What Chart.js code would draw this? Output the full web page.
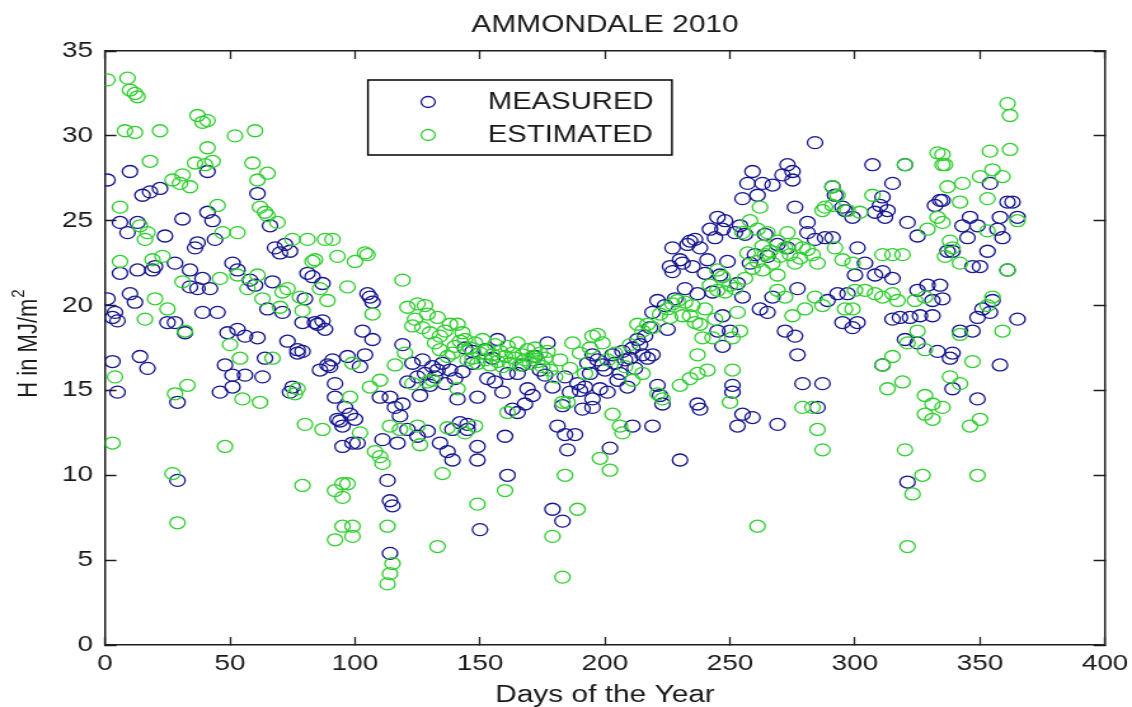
<!DOCTYPE html>
<html>
<head>
<meta charset="utf-8">
<script src="https://cdn.jsdelivr.net/npm/chart.js@4/dist/chart.umd.min.js"></script>
<style>
  html, body { margin: 0; padding: 0; background: #ffffff; overflow: hidden; }
  /* the reference picture is stretched horizontally; draw narrow and stretch the same way */
  #wrap { width: 891px; height: 707px; transform: scaleX(1.27048); transform-origin: 0 0; }
  canvas { display: block; }
</style>
</head>
<body>
<div id="wrap"><canvas id="c" width="891" height="707"></canvas></div>
<script>
// ---- data (day of year, H in MJ/m2) ----
const measured = [
  [1,27.4],[1,20.4],[3,16.7],[3,19.3],[4,19.6],[5,14.9],[5,19.1],[6,24.9],[6,21.9],[9,24.3],
  [10,27.9],[10,20.7],[12,20.2],[13,24.9],[13,22.1],[14,17.0],[15,26.5],[17,16.3],[18,26.7],[19,22.1],
  [20,22.3],[22,26.9],[24,24.1],[25,19.0],[28,19.0],[28,22.5],[29,14.3],[29,9.7],[31,25.1],[32,18.4],
  [34,22.1],[34,21.1],[36,23.4],[37,23.7],[37,21.0],[39,19.6],[39,21.6],[41,27.9],[41,25.5],[42,21.0],
  [43,25.0],[44,23.9],[45,19.6],[46,14.9],[48,16.5],[49,18.4],[51,22.5],[51,15.2],[51,15.9],[53,22.1],
  [53,18.6],[56,18.2],[56,15.9],[58,21.5],[60,21.2],[61,26.6],[61,18.1],[63,15.8],[64,16.9],[65,19.8],
  [66,24.7],[67,21.4],[68,23.4],[70,23.1],[71,19.6],[72,23.6],[73,17.9],[74,14.9],[74,23.2],[75,15.2],
  [77,17.4],[77,17.2],[79,17.3],[79,19.0],[80,20.4],[81,21.9],[83,21.7],[84,19.0],[85,18.9],[86,16.2],
  [87,21.3],[87,19.1],[88,18.6],[89,16.5],[90,16.4],[91,16.8],[92,15.4],[92,14.6],[93,13.3],[94,13.2],
  [95,12.9],[95,11.7],
  [96,14.0],[97,17.0],[98,13.6],[99,11.9],[100,13.3],[101,11.9],[102,16.4],[103,18.5],[104,17.1],[105,20.7],
  [106,20.5],[107,20.2],[107,18.0],[110,14.6],[111,12.1],[113,9.7],[114,14.6],[114,8.5],[114,5.4],[115,8.2],
  [116,14.0],[117,11.9],[118,13.5],[119,17.7],[119,14.2],[121,12.7],[121,15.5],[123,16.6],[125,15.8],[125,12.3],
  [126,14.7],[127,16.8],[128,16.0],[129,12.6],[130,15.3],[131,16.4],[132,15.8],[133,16.2],[134,11.9],[135,16.6],
  [136,15.4],[137,11.4],[138,16.2],[139,12.7],[139,10.9],[140,15.7],[141,14.5],[142,13.1],[143,16.1],[144,17.5],
  [145,12.7],
  [145,13.0],[147,17.3],[147,16.6],[149,14.6],[149,11.7],[149,10.9],[150,6.8],[152,17.4],[153,15.7],[155,16.9],
  [156,15.5],[157,18.0],[159,14.9],[160,12.3],[161,16.0],[161,10.0],[163,13.9],[165,16.0],[165,13.7],[167,16.5],
  [168,14.2],[169,15.1],[171,14.7],[172,17.0],[174,16.2],[176,15.9],[177,17.8],[179,15.2],[179,8.0],[181,12.9],
  [183,14.1],[183,7.3],[184,12.4],[184,15.8],[185,11.5],[186,14.9],[188,12.4],[189,15.4],[190,15.0],[191,13.9],
  [192,15.2],[193,16.6],[194,16.0],
  [195,17.1],[195,14.5],[195,14.0],[197,16.8],[198,15.1],[199,16.5],[200,16.2],[201,14.9],[202,11.6],[203,17.1],
  [204,16.6],[205,15.6],[206,16.0],[207,17.3],[208,16.8],[209,15.2],[210,16.9],[211,17.5],[211,12.9],[212,16.3],
  [213,18.0],[214,17.7],[215,17.1],[216,18.2],[217,16.9],[218,18.7],[219,17.1],[219,19.6],[219,12.9],[221,20.3],
  [221,15.3],[222,14.7],[223,14.2],[224,20.0],[225,18.6],[226,22.3],[227,23.4],[227,22.0],[228,20.4],[230,22.7],
  [230,10.9],[231,22.5],[232,21.0],[233,23.6],[234,23.8],[235,22.3],[236,23.9],[237,20.7],[237,14.2],[238,23.4],
  [238,13.9],[240,21.9],[241,22.7],[242,24.5],[243,20.8],[244,24.0],[245,25.2],[245,18.5],[246,21.8],[247,24.5],
  [247,19.4],[247,17.6],[248,25.0],[249,22.6],[250,18.5],[251,15.3],[251,14.9],[252,24.3],[253,12.9],[253,21.3],
  [254,24.7],[255,26.3],[255,20.5],[255,13.6],[256,24.2],[257,27.2],[258,22.5],[259,27.9],[259,13.4],[260,23.0],
  [261,26.5],[262,19.8],[263,27.2],[264,24.2],
  [265,22.9],[265,19.6],[267,27.1],[267,20.5],[269,13.0],[269,23.6],[271,27.7],[272,18.5],[273,28.3],[273,23.4],
  [275,27.9],[275,27.4],[276,25.8],[276,18.2],[277,21.0],[277,17.1],[279,15.4],[281,24.9],[281,24.3],[284,29.6],
  [284,23.9],[285,14.0],[287,15.4],[288,24.0],[289,20.3],[291,27.0],[291,24.0],[292,26.5],[293,20.7],[295,25.8],
  [295,19.0],[296,25.6],[297,20.7],[299,25.2],[299,18.7],[300,21.8],[301,23.4],[301,19.0],[304,22.5],[307,28.3],
  [308,21.8],[308,25.5],[310,25.9],[311,22.0],[311,16.5],[311,26.4],[312,25.2],[313,25.6],[315,21.6],[315,19.2],
  [315,27.2],[318,19.3],[320,28.3],[320,18.0],[321,24.9],[321,9.6],[322,19.3],[325,24.1],[325,20.9],[325,17.8],
  [326,19.4],[329,21.2],[331,20.3],[331,19.4],[332,25.9],[333,17.3],
  [334,26.2],[334,21.2],[335,26.2],[335,20.4],[337,23.2],[338,16.9],[339,23.2],[339,17.2],[339,15.1],[342,18.5],
  [343,24.7],[345,24.0],[346,25.2],[347,22.3],[347,18.5],[349,24.7],[349,19.3],[349,14.5],[350,22.3],[351,19.8],
  [353,23.2],[354,27.2],[354,19.6],[355,20.3],[357,24.5],[358,25.2],[358,16.5],[359,24.0],[361,26.1],[361,22.1],
  [363,26.1],[365,25.2],[365,19.2]
];

const estimated = [
  [1,33.3],[9,33.4],[10,32.7],[12,32.5],[13,32.3],[8,30.3],[12,30.2],[22,30.3],[37,31.2],[39,30.8],
  [41,30.9],[52,30.0],[60,30.3],[41,29.3],[18,28.5],[36,28.4],[40,28.3],[43,28.5],[59,28.4],[65,27.8],
  [61,27.4],[27,27.4],[31,27.7],[30,27.2],[34,27.0],[6,25.8],[45,25.9],[62,25.8],[64,25.5],[65,25.3],
  [69,24.9],[16,23.9],[47,24.3],[53,24.3],[75,23.9],[81,23.9],[88,23.9],[6,22.6],[19,22.7],[83,22.6],
  [46,21.6],[53,21.8],[61,21.8],[31,21.4],[71,20.8],[89,20.3],[20,20.4],[16,19.2],[32,18.5],[79,19.7],
  [4,15.8],[3,11.9],[28,14.8],[33,15.3],[27,10.1],[29,7.2],[48,11.7],[55,14.5],[62,14.3],[77,15.1],
  [76,14.8],[80,13.0],[87,12.7],[79,9.4],[92,9.1],[95,9.5],[92,6.2],[95,7.0],[14,24.7],[17,24.3],
  [23,22.9],[25,19.8],[50,17.7],[54,16.9],[57,21.0],[63,20.4],[67,16.9],[70,19.9],[73,21.0],[78,20.5],
  [84,22.7],[86,21.0],[91,23.9],[93,22.9],
  [104,23.1],[100,22.6],[119,21.5],[97,21.1],[107,19.5],[125,20.1],[129,19.5],[133,19.3],[138,18.9],[141,18.9],
  [143,18.4],[123,18.8],[127,18.7],[134,18.2],[134,17.4],[139,17.2],[145,16.8],[110,15.6],[99,16.6],[123,15.4],
  [129,15.5],[131,15.6],[98,14.6],[106,15.2],[141,15.1],[114,12.9],[118,12.7],[125,12.9],[110,11.1],[111,10.7],
  [135,10.1],[97,9.5],[95,8.7],[99,7.0],[99,6.4],[113,7.0],[133,5.8],[115,4.8],[114,4.2],[113,3.6],
  [121,19.9],[128,20.0],[130,18.4],[132,17.8],[136,18.5],[137,17.0],[140,17.6],[142,17.9],[144,18.0],[116,16.5],
  [120,17.2],[102,12.5],[105,23.0],[108,11.4],[124,19.2],[126,11.8],[137,12.8],[144,12.5],
  [146,17.5],[147,16.9],[148,17.8],[149,16.6],[150,17.2],[151,18.0],[152,16.8],[153,17.4],[154,16.5],[155,17.1],
  [156,17.7],[157,16.7],[158,17.3],[159,16.4],[160,17.0],[161,17.6],[162,16.6],[163,17.2],[164,16.9],[165,17.8],
  [166,16.5],[167,17.1],[168,16.8],[169,17.4],[170,16.6],[171,17.0],[172,17.5],[173,16.7],[174,17.2],[175,16.4],
  [176,16.9],[177,17.3],[178,16.2],
  [148,12.9],[160,9.1],[149,8.3],[184,10.0],[189,8.0],[179,6.4],[183,4.0],[161,13.7],[183,14.3],[185,14.3],
  [187,17.8],[195,18.2],[180,15.8],[186,16.3],[190,17.2],[192,16.0],[194,17.5],[182,16.8],
  [255,24.3],[261,24.5],[263,23.5],[257,23.1],[261,22.6],[263,22.1],[245,22.1],[247,21.7],[250,21.2],[242,21.2],
  [245,20.9],[225,19.8],[229,20.3],[231,19.4],[234,19.4],[238,18.9],[213,18.9],[215,18.5],[219,18.7],[197,18.3],
  [199,17.8],[239,18.1],[243,18.1],[237,17.1],[251,18.1],[254,18.5],[211,15.6],[215,16.0],[221,14.8],[223,14.5],
  [230,15.3],[234,15.7],[237,16.0],[241,16.2],[251,16.2],[250,14.3],[203,13.6],[206,12.9],[207,12.5],[198,11.0],
  [202,10.3],[261,7.0],
  [201,16.8],[204,17.2],[208,16.4],[210,17.7],[217,18.9],[222,19.5],[226,19.3],[227,20.1],[232,20.2],[235,20.0],
  [236,19.0],[240,19.8],[244,19.2],[248,20.8],[252,21.0],[253,19.6],[256,21.6],[258,25.0],[259,22.2],[262,25.8],
  [264,23.0],
  [333,29.0],[335,28.3],[320,28.3],[291,27.0],[293,26.5],[288,25.8],[307,26.5],[287,25.6],[291,25.9],[297,25.6],
  [265,24.3],[269,23.8],[272,23.4],[276,23.6],[279,23.4],[273,24.3],[267,22.5],[269,21.8],[276,22.5],[283,23.0],
  [285,22.5],[292,23.4],[295,22.7],[299,22.5],[311,23.0],[315,23.0],[319,23.0],[329,24.5],[333,25.2],[300,20.9],
  [304,20.9],[308,20.7],[311,20.5],[269,20.9],[272,20.5],[280,19.8],[275,19.4],[284,20.5],[287,20.0],[296,19.8],
  [299,19.8],[315,20.7],[317,20.3],[324,20.3],[328,20.5],[321,17.8],[325,18.5],[328,17.4],[311,16.5],[315,17.0],
  [313,15.1],[319,15.5],[328,14.7],[331,14.2],[328,13.6],[331,13.3],[279,14.0],[283,14.0],[285,12.7],[287,11.5],
  [320,11.5],[327,10.0],[323,8.9],[321,5.8],[266,23.2],[270,22.9],[274,23.0],[278,22.8],[281,23.3],[302,25.5],
  [361,31.9],[362,31.2],[354,29.1],[362,29.2],[335,28.9],[336,28.3],[355,28.0],[359,27.6],[343,27.2],[350,27.6],
  [337,27.0],[353,26.3],[365,25.0],[342,26.1],[335,24.9],[338,23.8],[339,23.4],[342,22.5],[353,24.4],[336,22.9],
  [355,20.5],[353,20.0],[359,18.5],[342,18.3],[347,16.7],[338,15.8],[342,15.4],[335,14.0],[346,12.9],[350,13.3],
  [349,10.0],[361,22.1]
];

const xTicks = [0, 50, 100, 150, 200, 250, 300, 350, 400];
const yTicks = [0, 5, 10, 15, 20, 25, 30, 35];
const seriesNames = ['MEASURED', 'ESTIMATED'];
const chartTitle = 'AMMONDALE 2010';
const xAxisTitle = 'Days of the Year';
const yAxisTitle = 'H in MJ/m';
const yAxisTitleSup = '2';

// ---- styling ----
const BLUE = '#16168f';
const GREEN = '#30cf30';
const TEXT = '#1a1a1a';
const AXIS = '#1e1e1e';
const FONT = '"Liberation Sans", Arial, sans-serif';

const matlabDecor = {
  id: 'matlabDecor',
  afterDraw(c) {
    const ctx = c.ctx;
    const a = c.chartArea;

    // title centred over the axes
    ctx.save();
    ctx.fillStyle = TEXT;
    ctx.font = '23.5px ' + FONT;
    ctx.textAlign = 'center';
    ctx.textBaseline = 'middle';
    ctx.fillText(chartTitle, (a.left + a.right) / 2, 26);
    ctx.restore();

    // y axis title (rotated) with superscript
    ctx.save();
    ctx.fillStyle = TEXT;
    ctx.font = '22px ' + FONT;
    const w1 = ctx.measureText(yAxisTitle).width;
    ctx.font = '15px ' + FONT;
    const w2 = ctx.measureText(yAxisTitleSup).width;
    ctx.translate(29, 344);
    ctx.rotate(-Math.PI / 2);
    ctx.textBaseline = 'alphabetic';
    ctx.textAlign = 'left';
    const sx = -(w1 + w2) / 2;
    ctx.font = '22px ' + FONT;
    ctx.fillText(yAxisTitle, sx, 0);
    ctx.font = '15px ' + FONT;
    ctx.fillText(yAxisTitleSup, sx + w1 + 1, -10);
    ctx.restore();

    // legend box
    ctx.save();
    const L = 289.6, T = 80, R = 528.9, B = 155;
    ctx.fillStyle = '#ffffff';
    ctx.fillRect(L, T, R - L, B - T);
    ctx.lineWidth = 1.4;
    ctx.strokeStyle = '#000000';
    ctx.beginPath();
    ctx.moveTo(L, T);
    ctx.lineTo(R, T);
    ctx.lineTo(R, B);
    ctx.lineTo(L, B);
    ctx.closePath();
    ctx.stroke();
    const rowsY = [102, 135];
    c.data.datasets.forEach((ds, i) => {
      const y = rowsY[i];
      ctx.beginPath();
      ctx.arc(337, y, 5.5, 0, Math.PI * 2);
      ctx.strokeStyle = ds.borderColor;
      ctx.lineWidth = 1.3;
      ctx.stroke();
      ctx.fillStyle = TEXT;
      ctx.font = '23px ' + FONT;
      ctx.textBaseline = 'middle';
      ctx.textAlign = 'left';
      ctx.fillText(seriesNames[i], 384, y + 1);
    });
    ctx.restore();
  }
};

const tickFont = { family: FONT, size: 22 };
const inwardGrid = { display: true, drawOnChartArea: false, drawTicks: true, tickLength: -8, tickColor: AXIS, tickWidth: 1.3 };
const axisBorder = { display: true, color: AXIS, width: 1.5 };
const noPad = s => { s.paddingLeft = 0; s.paddingRight = 0; s.paddingTop = 0; s.paddingBottom = 0; };

new Chart(document.getElementById('c'), {
  type: 'scatter',
  data: {
    datasets: [
      {
        label: seriesNames[0],
        data: measured.map(p => ({ x: p[0], y: p[1] })),
        borderColor: BLUE,
        backgroundColor: 'rgba(0,0,0,0)',
        pointRadius: 6,
        pointBorderWidth: 1.3,
        order: 1
      },
      {
        label: seriesNames[1],
        data: estimated.map(p => ({ x: p[0], y: p[1] })),
        borderColor: GREEN,
        backgroundColor: 'rgba(0,0,0,0)',
        pointRadius: 6,
        pointBorderWidth: 1.3,
        order: 0
      }
    ]
  },
  options: {
    responsive: false,
    devicePixelRatio: 1,
    animation: false,
    events: [],
    layout: { padding: { top: 51, right: 21.25, bottom: 0, left: 0 } },
    plugins: {
      legend: { display: false },
      tooltip: { enabled: false },
      title: { display: false }
    },
    scales: {
      x: {
        type: 'linear',
        position: 'bottom',
        min: 0, max: 400,
        afterBuildTicks: s => { s.ticks = xTicks.map(v => ({ value: v })); },
        afterFit: s => { s.height = 62; noPad(s); },
        grid: inwardGrid,
        border: axisBorder,
        ticks: { font: tickFont, color: TEXT, padding: 14, maxRotation: 0, autoSkip: false },
        title: { display: true, text: xAxisTitle, color: TEXT, font: { family: FONT, size: 23.5, lineHeight: 1.0 }, padding: { top: 0, bottom: 0 } }
      },
      xTop: {
        type: 'linear',
        axis: 'x',
        position: 'top',
        min: 0, max: 400,
        afterBuildTicks: s => { s.ticks = xTicks.map(v => ({ value: v })); },
        afterFit: s => { s.height = 0; noPad(s); },
        grid: inwardGrid,
        border: axisBorder,
        ticks: { display: false }
      },
      y: {
        type: 'linear',
        position: 'left',
        min: 0, max: 35,
        afterBuildTicks: s => { s.ticks = yTicks.map(v => ({ value: v })); },
        afterFit: s => { s.width = 82.65; noPad(s); },
        grid: Object.assign({}, inwardGrid, { tickLength: -9, tickWidth: 1.5 }),
        border: axisBorder,
        ticks: { font: tickFont, color: TEXT, padding: 18.5, autoSkip: false }
      },
      yRight: {
        type: 'linear',
        axis: 'y',
        position: 'right',
        min: 0, max: 35,
        afterBuildTicks: s => { s.ticks = yTicks.map(v => ({ value: v })); },
        afterFit: s => { s.width = 0; noPad(s); },
        grid: Object.assign({}, inwardGrid, { tickLength: -9, tickWidth: 1.5 }),
        border: axisBorder,
        ticks: { display: false }
      }
    }
  },
  plugins: [matlabDecor]
});
</script>
</body>
</html>
